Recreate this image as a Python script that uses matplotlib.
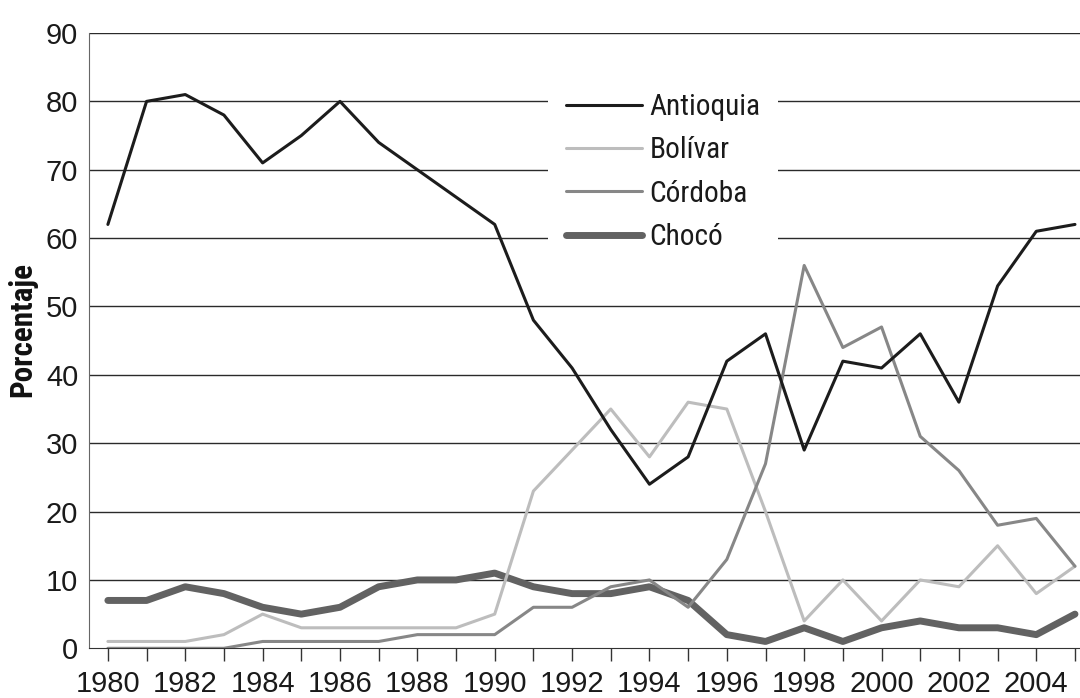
import os
import numpy as np
import matplotlib
matplotlib.use('Agg')
import matplotlib.pyplot as plt
from matplotlib import font_manager as fm
from matplotlib.font_manager import FontProperties
from matplotlib.textpath import TextPath

years = list(range(1980, 2006))

antioquia = [62, 80, 81, 78, 71, 75, 80, 74, 70, 66, 62, 48, 41, 32, 24, 28,
             42, 46, 29, 42, 41, 46, 36, 53, 61, 62]
bolivar = [1, 1, 1, 2, 5, 3, 3, 3, 3, 3, 5, 23, 29, 35, 28, 36,
           35, 20, 4, 10, 4, 10, 9, 15, 8, 12]
cordoba = [0, 0, 0, 0, 1, 1, 1, 1, 2, 2, 2, 6, 6, 9, 10, 6,
           13, 27, 56, 44, 47, 31, 26, 18, 19, 12]
choco = [7, 7, 9, 8, 6, 5, 6, 9, 10, 10, 11, 9, 8, 8, 9, 7,
         2, 1, 3, 1, 3, 4, 3, 3, 2, 5]

series_names = ['Antioquia', 'Bolívar', 'Córdoba', 'Chocó']
yticks = [0, 10, 20, 30, 40, 50, 60, 70, 80, 90]


def pick_font(bold):
    # look for a narrow / condensed face first, plain sans as fallback
    bad = ['italic', 'oblique', 'light', 'thin', 'medium', 'black', 'semi',
           'extra', 'heavy', 'demi']
    prefs = ['liberation', 'roboto', 'noto', 'opensans', 'open', 'lato',
             'inter', 'dejavu']
    found = []
    for f in fm.fontManager.ttflist:
        base = os.path.basename(f.fname).lower()
        if 'narrow' not in base and 'condensed' not in base:
            continue
        if any(b in base for b in bad):
            continue
        if bold != ('bold' in base):
            continue
        rank = next((i for i, p in enumerate(prefs) if p in base), 99)
        found.append((rank, f.fname))
    if found:
        found.sort()
        return FontProperties(fname=found[0][1])
    return FontProperties(family=['Liberation Sans', 'DejaVu Sans'],
                          weight='bold' if bold else 'normal')


def size_for(text, fp, px):
    # font size (pt) that makes the inked text px pixels wide at dpi 100
    w = TextPath((0, 0), text, size=100, prop=fp).get_extents().width
    return px * 72.0 / w


def size_for_height(text, fp, px):
    h = TextPath((0, 0), text, size=100, prop=fp).get_extents().height
    return px * 72.0 / h


fp_reg = pick_font(False)
fp_bold = pick_font(True)
# digits in the reference are close to plain Arial proportions
fp_num = FontProperties(family=['Liberation Sans', 'DejaVu Sans'])

tick_size = 0.5 * (size_for('1980', fp_num, 59) +
                   size_for_height('1980', fp_num, 21.5))
leg_size = size_for('Antioquia', fp_reg, 109)
lab_size = size_for('Porcentaje', fp_bold, 132)

fig = plt.figure(figsize=(10.8, 6.98), dpi=100)
ax = fig.add_axes([0.0827, 0.0712, 0.9173, 0.8815])

for v in yticks[1:]:
    ax.axhline(v, color='#2a2a2a', lw=1.0, zorder=1)

l_ant, = ax.plot(years, antioquia, color='#1c1c1c', lw=2.2, zorder=5,
                 solid_capstyle='round')
l_bol, = ax.plot(years, bolivar, color='#bdbdbd', lw=2.2, zorder=3,
                 solid_capstyle='round')
l_cor, = ax.plot(years, cordoba, color='#878787', lw=2.2, zorder=4,
                 solid_capstyle='round')
l_cho, = ax.plot(years, choco, color='#626262', lw=5.0, zorder=2,
                 solid_capstyle='round', solid_joinstyle='round')

ax.set_xlim(1979.52, 2005.13)
ax.set_ylim(0, 90)

tick_fp = fp_num.copy()
tick_fp.set_size(tick_size)

ax.set_yticks(yticks)
ax.set_yticklabels([str(v) for v in yticks], color='#1a1a1a')
ax.tick_params(axis='y', length=0, pad=8)

ax.set_xticks(years)
ax.set_xticklabels([str(y) if y % 2 == 0 else '' for y in years],
                   color='#1a1a1a')
ax.tick_params(axis='x', length=9.5, width=1.0, color='#333333', pad=6,
               direction='out')
for lab in ax.get_xticklabels() + ax.get_yticklabels():
    lab.set_fontproperties(tick_fp)

for s in ['top', 'right']:
    ax.spines[s].set_visible(False)
ax.spines['left'].set_color('#666666')
ax.spines['bottom'].set_color('#333333')

lab_fp = fp_bold.copy()
lab_fp.set_size(lab_size)
fig.text(22 / 1080, 1 - 329 / 698, 'Porcentaje', rotation=90,
         ha='center', va='center', fontproperties=lab_fp, color='#111111')

leg_fp = fp_reg.copy()
leg_fp.set_size(leg_size)
leg = ax.legend([l_ant, l_bol, l_cor, l_cho], series_names,
                loc='upper left', bbox_to_anchor=(0.463, 0.931),
                prop=leg_fp, frameon=True, fancybox=False,
                handlelength=2.6, handletextpad=0.25, labelspacing=0.52,
                borderpad=0.6, borderaxespad=0)
for t in leg.get_texts():
    t.set_color('#1a1a1a')
leg.get_frame().set_facecolor('white')
leg.get_frame().set_edgecolor('none')
leg.get_frame().set_alpha(1.0)
leg.set_zorder(10)

fig.savefig('out.png', dpi=100)
